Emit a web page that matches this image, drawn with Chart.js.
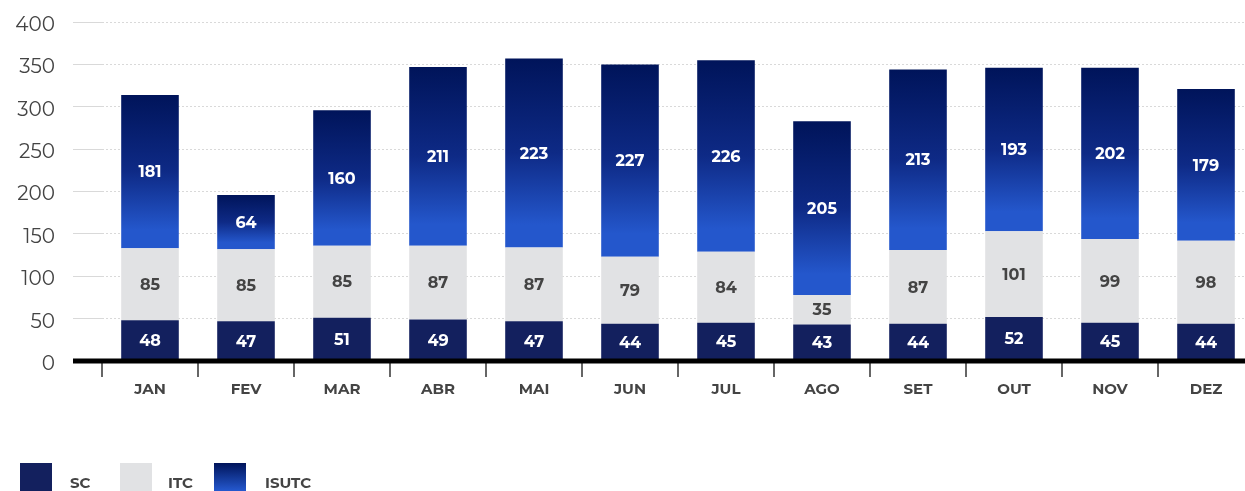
<!DOCTYPE html>
<html>
<head>
<meta charset="utf-8">
<script src="https://cdn.jsdelivr.net/npm/chart.js@4"></script>
<style>
  html, body { margin: 0; padding: 0; background: #fff; overflow: hidden; }
  #wrap { width: 1254px; height: 500px; }
</style>
</head>
<body>
<div id="wrap"><canvas id="chart" width="1254" height="500"></canvas></div>
<script>
// dados do gráfico
const meses = ['JAN', 'FEV', 'MAR', 'ABR', 'MAI', 'JUN', 'JUL', 'AGO', 'SET', 'OUT', 'NOV', 'DEZ'];
const sc = [48, 47, 51, 49, 47, 44, 45, 43, 44, 52, 45, 44];
const itc = [85, 85, 85, 87, 87, 79, 84, 35, 87, 101, 99, 98];
const isutc = [181, 64, 160, 211, 223, 227, 226, 205, 213, 193, 202, 179];
const yTicks = [0, 50, 100, 150, 200, 250, 300, 350, 400];

const FONT = "'Montserrat', 'Open Sans', sans-serif";
const corSC = '#13205e';
const corITC = '#e1e2e4';
const corTopo = '#00145a';
const corBase = '#2457cc';

// gradiente de cada barra ISUTC
function isutcFill(context) {
    const chart = context.chart;
    if (!chart.chartArea || context.dataIndex === undefined) return corTopo;
    const i = context.dataIndex;
    const base = sc[i] + itc[i];
    const y = chart.scales.y;
    const topo = y.getPixelForValue(base + isutc[i]);
    const fundo = y.getPixelForValue(base);
    const g = chart.ctx.createLinearGradient(0, topo, 0, fundo);
    g.addColorStop(0, corTopo);
    g.addColorStop(0.5, '#0e2a86');
    g.addColorStop(0.88, corBase);
    g.addColorStop(1, corBase);
    return g;
}

// rótulos de valor dentro das barras
const valueLabels = {
    id: 'valueLabels',
    afterDatasetsDraw(chart) {
        const ctx = chart.ctx;
        ctx.save();
        ctx.font = 'bold 16px ' + FONT;
        ctx.textAlign = 'center';
        ctx.textBaseline = 'middle';
        chart.data.datasets.forEach((ds, di) => {
            const meta = chart.getDatasetMeta(di);
            ctx.fillStyle = di === 1 ? '#444' : '#fff';
            meta.data.forEach((bar, i) => {
                ctx.fillText(ds.data[i], bar.x, (bar.y + bar.base) / 2 + 1);
            });
        });
        ctx.restore();
    }
};

// linha preta do eixo e legenda
const extras = {
    id: 'extras',
    afterDraw(chart) {
        const ctx = chart.ctx;
        const y0 = chart.scales.y.getPixelForValue(0);
        ctx.save();
        ctx.strokeStyle = '#000';
        ctx.lineWidth = 5;
        ctx.beginPath();
        ctx.moveTo(73, y0);
        ctx.lineTo(chart.width, y0);
        ctx.stroke();

        const itens = [
            { label: 'SC', x: 20, tx: 70 },
            { label: 'ITC', x: 120, tx: 168 },
            { label: 'ISUTC', x: 214, tx: 265 }
        ];
        const top = 463, h = 32;
        itens.forEach((it, k) => {
            if (k === 0) ctx.fillStyle = corSC;
            else if (k === 1) ctx.fillStyle = corITC;
            else {
                const g = ctx.createLinearGradient(0, top, 0, top + h);
                g.addColorStop(0, corTopo);
                g.addColorStop(0.85, corBase);
                g.addColorStop(1, corBase);
                ctx.fillStyle = g;
            }
            ctx.fillRect(it.x, top, 32, h);
            ctx.fillStyle = '#444';
            ctx.font = 'bold 15px ' + FONT;
            ctx.textAlign = 'left';
            ctx.textBaseline = 'middle';
            ctx.fillText(it.label, it.tx, 484);
        });
        ctx.restore();
    }
};

new Chart(document.getElementById('chart'), {
    type: 'bar',
    data: {
        labels: meses,
        datasets: [
            { label: 'SC', data: sc, backgroundColor: corSC },
            { label: 'ITC', data: itc, backgroundColor: corITC },
            { label: 'ISUTC', data: isutc, backgroundColor: isutcFill }
        ]
    },
    options: {
        responsive: false,
        animation: false,
        devicePixelRatio: 1,
        layout: { padding: { top: 22, left: 0, right: 0, bottom: 0 } },
        datasets: { bar: { barPercentage: 0.6, categoryPercentage: 1.0 } },
        plugins: {
            legend: { display: false },
            tooltip: { enabled: false }
        },
        scales: {
            x: {
                stacked: true,
                border: { display: false },
                grid: {
                    offset: true,
                    drawOnChartArea: false,
                    drawTicks: true,
                    tickLength: 16,
                    color: '#666',
                    lineWidth: 2
                },
                ticks: {
                    padding: 4,
                    color: '#444',
                    font: { family: FONT, size: 15, weight: 'bold' }
                },
                afterFit(scale) {
                    scale.height = 139;
                    scale.paddingLeft = 0;
                    scale.paddingRight = 0;
                }
            },
            y: {
                stacked: true,
                min: 0,
                max: 400,
                afterBuildTicks(scale) { scale.ticks = yTicks.map(v => ({ value: v })); },
                border: { display: false, dash: [2, 2] },
                grid: {
                    color: '#d9d9d9',
                    lineWidth: 1,
                    drawTicks: true,
                    tickLength: 29
                },
                ticks: {
                    padding: 18,
                    labelOffset: 3,
                    color: '#444',
                    font: { family: FONT, size: 20 }
                },
                afterFit(scale) {
                    scale.width = 102;
                    scale.paddingTop = 0;
                    scale.paddingBottom = 0;
                }
            }
        }
    },
    plugins: [valueLabels, extras]
});
</script>
</body>
</html>
